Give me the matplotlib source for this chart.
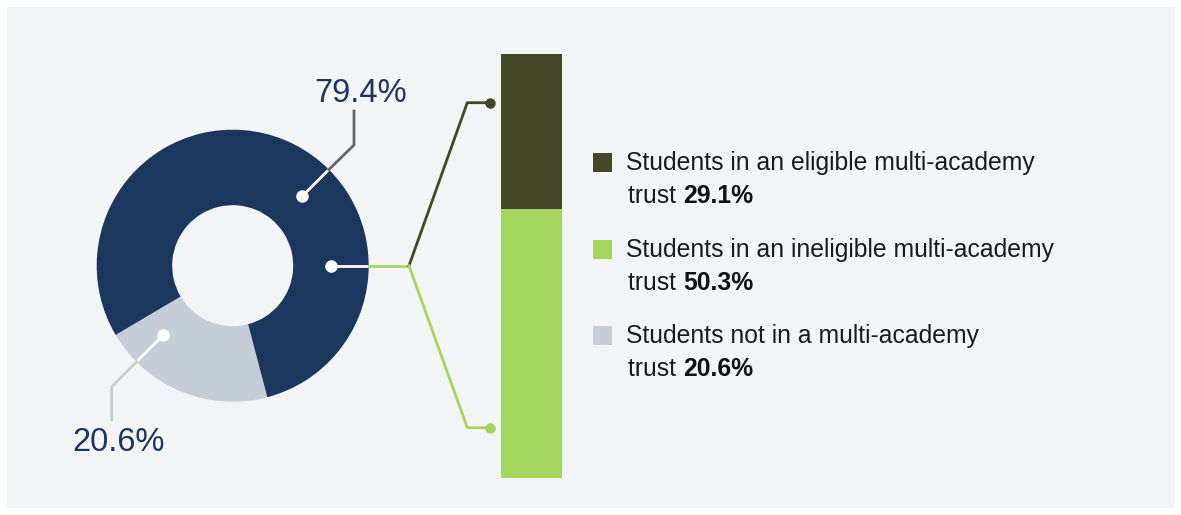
import matplotlib.pyplot as plt
import matplotlib.patches as mpatches
import numpy as np

plt.rcParams['font.family'] = ['Liberation Sans', 'DejaVu Sans']

# data
donut_labels = ['Students not in a multi-academy trust', 'Students in a multi-academy trust']
donut_values = [20.6, 79.4]
bar_labels = ['Students in an ineligible multi-academy trust', 'Students in an eligible multi-academy trust']
bar_values = [50.3, 29.1]
legend_lines = ['Students in an eligible multi-academy', 'Students in an ineligible multi-academy',
                'Students not in a multi-academy']
legend_values = [29.1, 50.3, 20.6]

NAVY = '#1b375e'
LGRAY = '#c5ced8'
OLIVE = '#434726'
GREEN = '#a4d55e'
BG = '#f3f4f6'

W, H = 1181, 515
fig = plt.figure(figsize=(W / 100, H / 100), dpi=100)
fig.patch.set_facecolor('white')
ax = fig.add_axes([0, 0, 1, 1])
ax.set_xlim(0, W)
ax.set_ylim(0, H)
ax.axis('off')


def Y(y):  # convert from top-down pixel to axes coords
    return H - y


ax.add_patch(mpatches.Rectangle((7, Y(508)), 1168, 501, facecolor=BG, edgecolor='none', zorder=0))

# donut
cx, cy = 232.7, Y(265.7)
r_out, r_in = 136, 60.5
ax.pie(donut_values, colors=[LGRAY, NAVY], startangle=210.6, counterclock=True,
       center=(cx, cy), radius=r_out, wedgeprops=dict(width=r_out - r_in, linewidth=0),
       frame=True)
ax.set_xlim(0, W)
ax.set_ylim(0, H)
ax.set_aspect('equal')
ax.axis('off')
r_mid = (r_out + r_in) / 2


def pt(angle, r):
    a = np.deg2rad(angle)
    return cx + r * np.cos(a), cy + r * np.sin(a)


# leader for 79.4%
d = pt(45, r_mid)
e = pt(45, r_out)
ax.plot([d[0], e[0]], [d[1], e[1]], color='white', lw=2, zorder=3, solid_capstyle='butt')
ax.plot([e[0], 354, 354], [e[1], Y(145), Y(111)], color='#666666', lw=2, zorder=3)
ax.plot(*d, 'o', color='white', ms=8, zorder=4)
ax.text(361, Y(101.5), f'{donut_values[1]}%', color=NAVY, fontsize=23.5, ha='center', va='baseline')

# leader for 20.6%
d = pt(225, r_mid)
e = pt(225, r_out)
ax.plot([d[0], e[0]], [d[1], e[1]], color='white', lw=2, zorder=3, solid_capstyle='butt')
ax.plot([e[0], 111.7, 111.7], [e[1], Y(386.7), Y(420)], color='#cccccc', lw=2, zorder=3)
ax.plot(*d, 'o', color='white', ms=8, zorder=4)
ax.text(118.5, Y(451), f'{donut_values[0]}%', color=NAVY, fontsize=23.5, ha='center', va='baseline')

# connector to bar
d = pt(0, r_mid)
e = pt(0, r_out)
ax.plot([d[0], e[0]], [d[1], e[1]], color='white', lw=2, zorder=3, solid_capstyle='butt')
ax.plot([e[0], 409], [e[1], e[1]], color=GREEN, lw=2, zorder=3)
ax.plot([409, 467.3, 489.5], [e[1], Y(102.7), Y(102.7)], color=OLIVE, lw=2, zorder=3)
ax.plot([409, 467.3, 489.5], [e[1], Y(427.7), Y(427.7)], color=GREEN, lw=2, zorder=3)
ax.plot(*d, 'o', color='white', ms=8, zorder=4)
ax.plot(489.5, Y(102.7), 'o', color=OLIVE, ms=6.5, zorder=4)
ax.plot(489.5, Y(427.7), 'o', color=GREEN, ms=6.5, zorder=4)

# stacked bar
bax = fig.add_axes([501 / W, Y(478) / H, 61 / W, 424 / H])
bax.bar(0, bar_values[0], width=1, color=GREEN, linewidth=0)
bax.bar(0, bar_values[1], bottom=bar_values[0], width=1, color=OLIVE, linewidth=0)
bax.set_xlim(-0.5, 0.5)
bax.set_ylim(0, sum(bar_values))
bax.axis('off')

# legend
fig.canvas.draw()
renderer = fig.canvas.get_renderer()
sq_colors = [OLIVE, GREEN, LGRAY]
baselines = [170, 257, 343.3]
for txt, val, col, b in zip(legend_lines, legend_values, sq_colors, baselines):
    ax.add_patch(mpatches.Rectangle((593, Y(b + 1.5)), 18.5, 18.5, facecolor=col, edgecolor='none', zorder=3))
    ax.text(626, Y(b), txt, fontsize=17.8, color='#1a1a1a', va='baseline', ha='left')
    t = ax.text(628, Y(b + 32.7), 'trust ', fontsize=17.8, color='#1a1a1a', va='baseline', ha='left')
    bb = t.get_window_extent(renderer)
    x1 = ax.transData.inverted().transform((bb.x1, bb.y0))[0]
    ax.text(x1, Y(b + 32.7), f'{val}%', fontsize=17.8, color='#111111', fontweight='bold',
            va='baseline', ha='left')

fig.savefig('out.png', dpi=100)
